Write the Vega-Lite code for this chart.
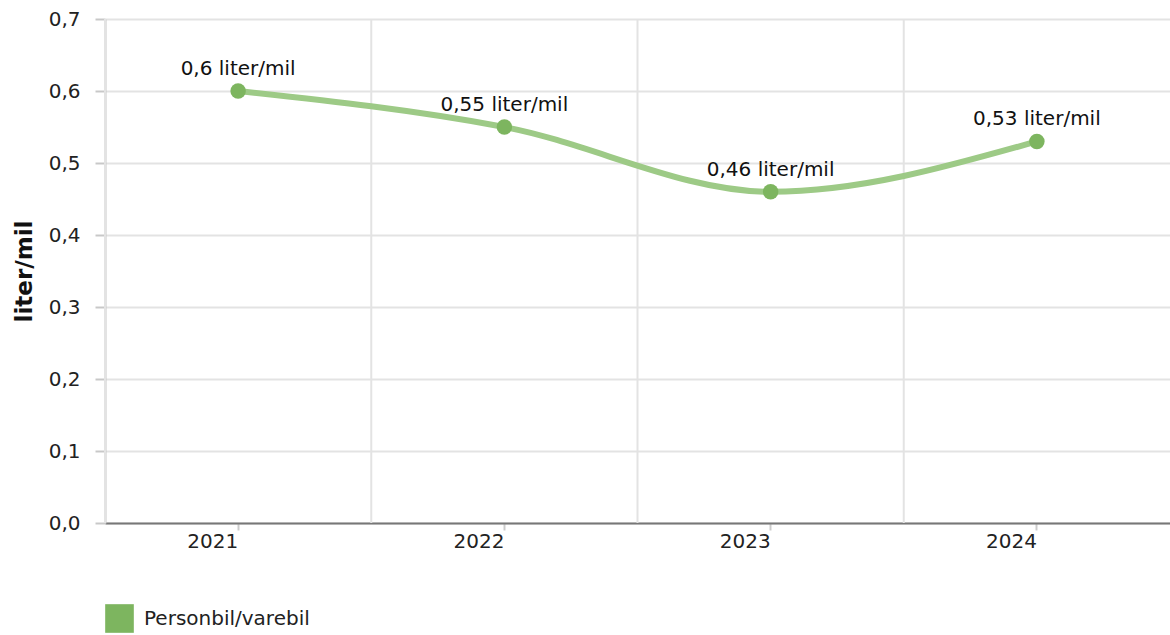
{
  "$schema": "https://vega.github.io/schema/vega-lite/v6.json",
  "width": 1065,
  "height": 504,
  "autosize": {"type": "none"},
  "padding": {"left": 105, "top": 19, "right": 0, "bottom": 112},
  "config": {
    "font": "DejaVu Sans",
    "locale": {"number": {"decimal": ",", "thousands": ".", "grouping": [3], "currency": ["", " kr"]}},
    "view": {"stroke": null},
    "axis": {"labelFont": "DejaVu Sans", "titleFont": "DejaVu Sans"}
  },
  "data": {
    "values": [
      {"year": "2021", "value": 0.6, "label": "0,6 liter/mil", "series": "Personbil/varebil"},
      {"year": "2022", "value": 0.55, "label": "0,55 liter/mil", "series": "Personbil/varebil"},
      {"year": "2023", "value": 0.46, "label": "0,46 liter/mil", "series": "Personbil/varebil"},
      {"year": "2024", "value": 0.53, "label": "0,53 liter/mil", "series": "Personbil/varebil"}
    ]
  },
  "layer": [
    {
      "mark": {"type": "rule", "color": "#e3e3e3", "strokeWidth": 2},
      "encoding": {
        "x": {"field": "year", "type": "ordinal", "bandPosition": 0}
      }
    },
    {
      "mark": {"type": "line", "interpolate": "monotone", "strokeWidth": 6, "color": "#9dca86"},
      "encoding": {
        "x": {
          "field": "year", "type": "ordinal", "title": null,
          "scale": {"type": "band", "paddingInner": 0, "paddingOuter": 0},
          "axis": {
            "labelAngle": 0, "labelFontSize": 20, "labelColor": "#222", "labelPadding": 11,
            "domainColor": "#777777", "domainWidth": 2,
            "tickColor": "#cccccc", "tickSize": 7, "tickWidth": 2, "grid": false
          }
        },
        "y": {
          "field": "value", "type": "quantitative", "title": "liter/mil",
          "scale": {"domain": [0, 0.7], "nice": false},
          "axis": {
            "values": [0, 0.1, 0.2, 0.3, 0.4, 0.5, 0.6, 0.7],
            "format": ".1f", "labelFontSize": 20, "labelColor": "#222", "labelPadding": 15,
            "titleFontSize": 23, "titleFontWeight": "bold", "titleColor": "#111", "titlePadding": 12,
            "domainColor": "#c8c8c8", "domainWidth": 2,
            "tickColor": "#c8c8c8", "tickSize": 10, "tickWidth": 2,
            "gridColor": "#e3e3e3", "gridWidth": 2
          }
        }
      }
    },
    {
      "mark": {"type": "point", "filled": true, "size": 240, "opacity": 1},
      "encoding": {
        "x": {"field": "year", "type": "ordinal"},
        "y": {"field": "value", "type": "quantitative"},
        "color": {
          "field": "series", "type": "nominal",
          "scale": {"range": ["#7db55f"]},
          "legend": {
            "orient": "bottom", "title": null, "symbolType": "square", "symbolSize": 820,
            "symbolStrokeWidth": 0, "labelFontSize": 20, "labelColor": "#222", "offset": 53,
            "labelOffset": 10, "labelLimit": 500, "symbolFillColor": "#82b866"
          }
        }
      }
    },
    {
      "mark": {"type": "text", "baseline": "bottom", "dy": -12, "fontSize": 20, "color": "#111"},
      "encoding": {
        "x": {"field": "year", "type": "ordinal"},
        "y": {"field": "value", "type": "quantitative"},
        "text": {"field": "label"}
      }
    }
  ]
}
